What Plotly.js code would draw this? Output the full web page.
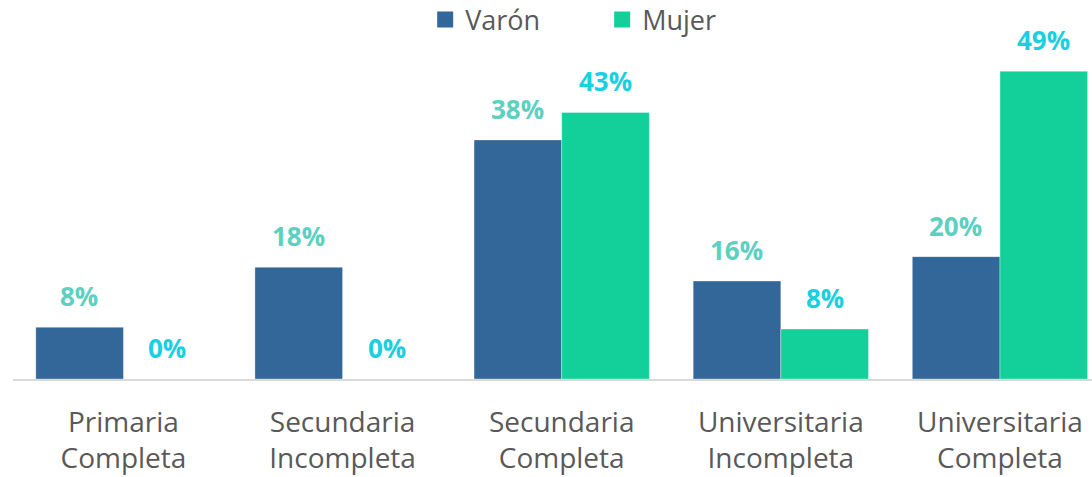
<!DOCTYPE html>
<html>
<head>
<meta charset="utf-8">
<script src="https://cdn.plot.ly/plotly-3.0.1.min.js"></script>
<style>html,body{margin:0;padding:0;background:#fff;}#chart{width:1092px;height:477px;}</style>
</head>
<body>
<div id="chart"></div>
<script>
const categories = ["Primaria<br>Completa", "Secundaria<br>Incompleta", "Secundaria<br>Completa", "Universitaria<br>Incompleta", "Universitaria<br>Completa"];
const seriesNames = ["Varón", "Mujer"];
const varonValues = [8.3, 17.9, 38.3, 15.7, 19.6];
const mujerValues = [0, 0, 42.7, 8.0, 49.3];

const barColors = ["#336699", "#13CF99"];
const labelColors = ["#5DD0C2", "#1ACFDF"];
const seriesValues = [varonValues, mujerValues];

const traces = [];
seriesValues.forEach((vals, i) => {
  traces.push({
    type: "bar",
    name: seriesNames[i],
    x: categories,
    y: vals,
    marker: {color: barColors[i], line: {color: "rgba(255,255,255,0.35)", width: 1}},
    showlegend: false,
    hoverinfo: "skip"
  });
});
// legend proxies (larger square symbols)
seriesValues.forEach((vals, i) => {
  traces.push({
    type: "scatter",
    mode: "markers",
    name: seriesNames[i],
    x: [null],
    y: [null],
    marker: {symbol: "square", size: 20, color: barColors[i]},
    showlegend: true
  });
});

const annotations = [];
const shiftPx = 44;
seriesValues.forEach((vals, i) => {
  vals.forEach((v, j) => {
    annotations.push({
      x: categories[j],
      y: v,
      xref: "x",
      yref: "y",
      text: Math.round(v) + "%",
      showarrow: false,
      xshift: i === 0 ? -shiftPx : shiftPx,
      yshift: 11,
      yanchor: "bottom",
      font: {family: "Open Sans", size: 26, color: labelColors[i], weight: 700}
    });
  });
});

const layout = {
  width: 1092,
  height: 477,
  margin: {l: 13, r: 0, t: 40, b: 98, autoexpand: false},
  paper_bgcolor: "#ffffff",
  plot_bgcolor: "#ffffff",
  barmode: "group",
  bargap: 0.2,
  bargroupgap: 0,
  showlegend: true,
  legend: {
    orientation: "h",
    x: 0.382,
    xanchor: "left",
    y: 1.059,
    yanchor: "middle",
    font: {family: "Open Sans", size: 27, color: "#595959"},
    itemwidth: 30,
    entrywidth: 132,
    tracegroupgap: 0
  },
  xaxis: {
    type: "category",
    range: [-0.504, 4.42],
    showline: true,
    linecolor: "#D9D9D9",
    linewidth: 2,
    showgrid: false,
    zeroline: false,
    ticks: "",
    ticklabelstandoff: 17,
    tickfont: {family: "Open Sans", size: 28, color: "#595959"},
    fixedrange: true
  },
  yaxis: {
    range: [0, 54.3],
    showgrid: false,
    zeroline: false,
    showticklabels: false,
    ticks: "",
    fixedrange: true
  },
  annotations: annotations
};

Plotly.newPlot("chart", traces, layout, {displayModeBar: false, staticPlot: true});
</script>
</body>
</html>
